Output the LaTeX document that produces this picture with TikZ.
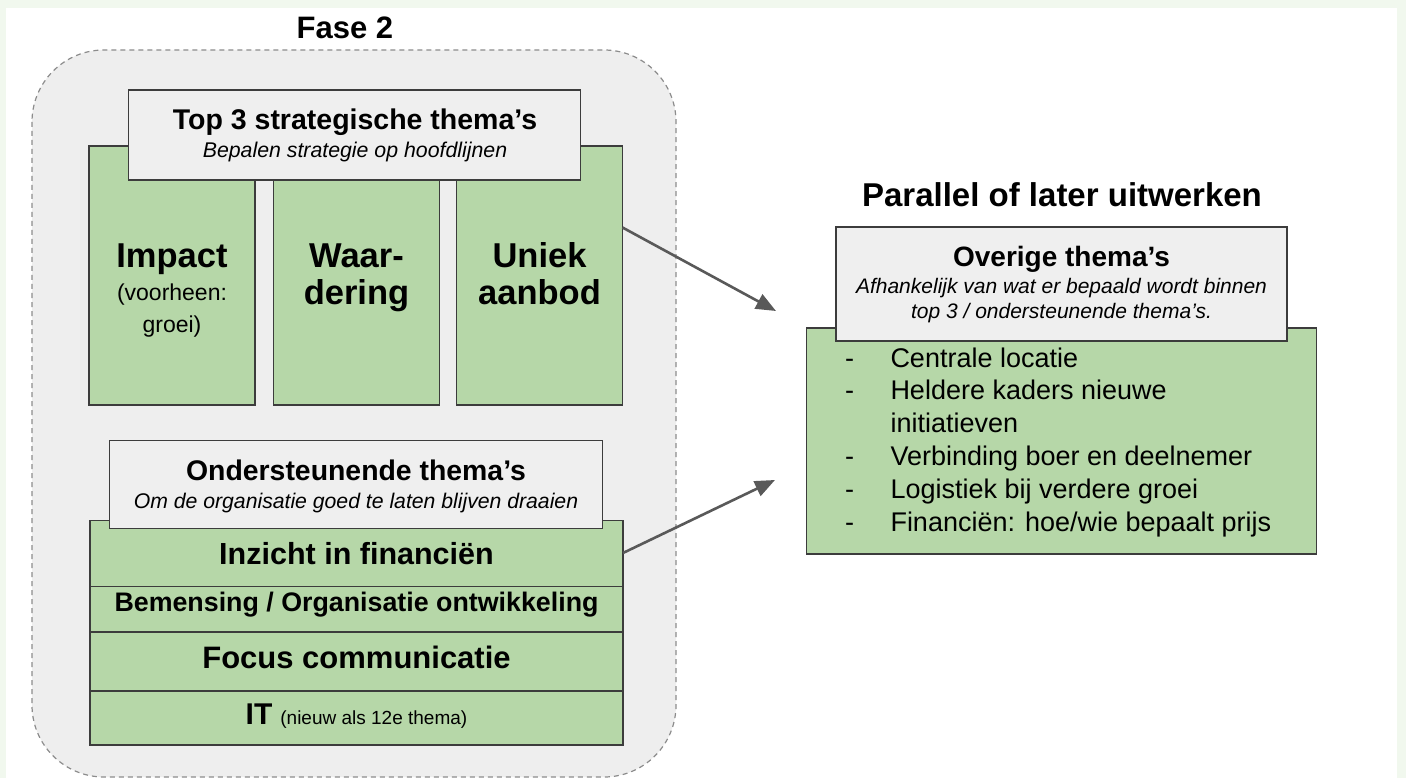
\documentclass[tikz,border=0pt]{standalone}
\usepackage{fontspec}
\setmainfont{Liberation Sans}
\usetikzlibrary{arrows.meta}
\definecolor{boxgreen}{HTML}{B6D7A8}
\definecolor{edgecol}{HTML}{3C3C3C}
\definecolor{boxgray}{HTML}{EFEFEF}
\definecolor{panelgray}{HTML}{EEEEEE}
\definecolor{dashgray}{HTML}{8C8C8C}
\definecolor{framegreen}{HTML}{F1F8EE}
\definecolor{arrowgray}{HTML}{595959}
\newcommand\setfs[2]{\fontsize{#1}{#2}\selectfont}
\tikzset{
  greenbox/.style={draw=edgecol, line width=1.8pt, fill=boxgreen, inner sep=0pt, outer sep=0pt},
  graybox/.style={draw=edgecol, line width=1.8pt, fill=boxgray, inner sep=0pt, outer sep=0pt},
  txt/.style={inner sep=0pt, outer sep=0pt, anchor=base, text=black},
  conn/.style={draw=arrowgray, line width=2.6pt, -{Triangle[length=20pt,width=16pt]}},
}
\begin{document}
\begin{tikzpicture}[x=1pt,y=-1pt]
\useasboundingbox (0,0) rectangle (1406,778);
% frame
\fill[framegreen] (0,0) rectangle (1406,778);
\fill[white] (6,8) rectangle (1397,778);
% left panel
\draw[dashgray, fill=panelgray, line width=1.2pt, dash pattern=on 5pt off 4pt, rounded corners=72pt]
  (32,50) rectangle (676,777);
\node[txt] (fase) at (345,39) {\setfs{31}{36}\bfseries Fase 2};
% strategic columns
\node[greenbox, minimum width=166pt, minimum height=259pt] (impact) at (172,275.5) {};
\node[greenbox, minimum width=166pt, minimum height=259pt] (waardering) at (356.5,275.5) {};
\node[greenbox, minimum width=166pt, minimum height=259pt] (uniek) at (539.5,275.5) {};
\node[graybox, minimum width=452pt, minimum height=90pt] (top3) at (354.5,135) {};
\node[txt] (top3t) at (355,130) {\setfs{28.5}{32}\bfseries Top 3 strategische thema’s};
\node[txt] (top3s) at (355,158) {\setfs{21.3}{24}\itshape Bepalen strategie op hoofdlijnen};
\node[txt] (impactt) at (172,268) {\setfs{34.5}{38}\bfseries Impact};
\node[txt] (impacts1) at (172,301) {\setfs{23}{26}(voorheen:};
\node[txt] (impacts2) at (172,332) {\setfs{23}{26}groei)};
\node[txt] (waart1) at (356.5,268) {\setfs{34.5}{38}\bfseries Waar-};
\node[txt] (waart2) at (356.5,305) {\setfs{34.5}{38}\bfseries dering};
\node[txt] (uniekt1) at (539.5,268) {\setfs{34.5}{38}\bfseries Uniek};
\node[txt] (uniekt2) at (539.5,305) {\setfs{34.5}{38}\bfseries aanbod};
% supporting themes
\node[greenbox, minimum width=533pt, minimum height=66pt] (inzicht) at (356.5,553.5) {};
\node[greenbox, minimum width=533pt, minimum height=45pt] (bemensing) at (356.5,609) {};
\node[greenbox, minimum width=533pt, minimum height=59pt] (focus) at (356.5,661.5) {};
\node[greenbox, minimum width=533pt, minimum height=54pt] (it) at (356.5,718) {};
\node[graybox, minimum width=493pt, minimum height=88pt] (onder) at (356,484.5) {};
\node[txt] (ondert) at (356,480) {\setfs{28.4}{32}\bfseries Ondersteunende thema’s};
\node[txt] (onders) at (356,508) {\setfs{21.2}{24}\itshape Om de organisatie goed te laten blijven draaien};
\node[txt] (inzichtt) at (356.5,564) {\setfs{30.5}{34}\bfseries Inzicht in financiën};
\node[txt] (bemensingt) at (356.5,611) {\setfs{26.8}{30}\bfseries Bemensing / Organisatie ontwikkeling};
\node[txt] (focust) at (356.5,668) {\setfs{31}{34}\bfseries Focus communicatie};
\node[txt] (itt) at (356.5,724) {{\setfs{30}{34}\bfseries IT}\hspace{8pt}{\setfs{19}{22}(nieuw als 12e thema)}};
% right side
\node[txt] (parallel) at (1062,207) {\setfs{33}{36}\bfseries Parallel of later uitwerken};
\node[greenbox, minimum width=510pt, minimum height=226pt] (overig) at (1061.5,441) {};
\node[graybox, minimum width=451pt, minimum height=114pt] (overigkop) at (1061.5,284) {};
\node[txt] (overigt) at (1061.5,266) {\setfs{28}{32}\bfseries Overige thema’s};
\node[txt] (overigs1) at (1061.5,293) {\setfs{21}{24}\itshape Afhankelijk van wat er bepaald wordt binnen};
\node[txt] (overigs2) at (1061.5,318) {\setfs{21}{24}\itshape top 3 / ondersteunende thema’s.};
\node[inner sep=0pt, outer sep=0pt, anchor=base west] (lijst) at (845,367)
  {\setfs{27}{32.8}\begin{tabular}[t]{@{}p{45.5pt}@{}l@{}}
  -&Centrale locatie\\
  -&Heldere kaders nieuwe\\
   &initiatieven\\
  -&Verbinding boer en deelnemer\\
  -&Logistiek bij verdere groei\\
  -&Financiën: hoe/wie bepaalt prijs
  \end{tabular}};
% connectors
\coordinate (tip1) at (776,311);
\coordinate (tip2) at (775,480);
\draw[conn] ([yshift=48pt]uniek.east) -- (tip1);
\draw[conn] ([yshift=0.5pt]inzicht.east) -- (tip2);
\end{tikzpicture}
\end{document}
